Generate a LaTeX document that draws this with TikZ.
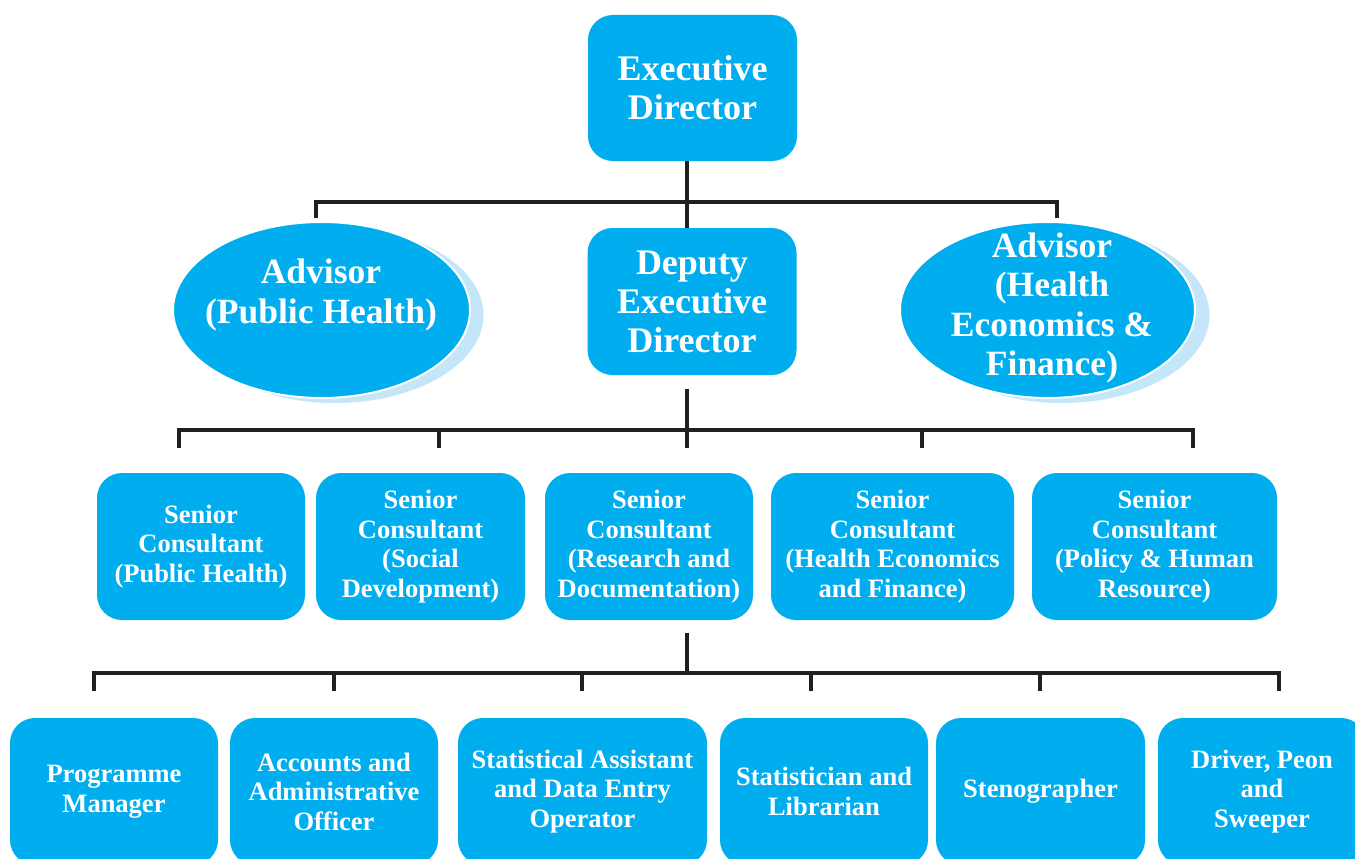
\documentclass[tikz,border=0pt]{standalone}
\usepackage{fontspec}
\setmainfont{Liberation Serif}
\usetikzlibrary{shapes.geometric}
\definecolor{boxblue}{HTML}{00AEEF}
\definecolor{shadowblue}{HTML}{C3E7F8}
\definecolor{linegray}{HTML}{231F20}
\tikzset{
  orgbox/.style={fill=boxblue, rounded corners=25pt, text=white, align=center, inner sep=2pt,
    font=\bfseries\fontsize{26.5}{29.5}\selectfont},
  topbox/.style={orgbox, font=\bfseries\fontsize{36}{39}\selectfont, minimum width=209pt},
  advell/.style={ellipse, fill=boxblue, draw=white, line width=2pt, inner sep=0pt},
  advshadow/.style={ellipse, fill=shadowblue, inner sep=0pt},
  advtext/.style={text=white, align=center, font=\bfseries\fontsize{35.5}{39.5}\selectfont},
  conn/.style={draw=linegray, line width=4pt, line cap=butt, line join=miter},
}
\begin{document}
\begin{tikzpicture}[x=1pt, y=-1pt]
\clip (0,0) rectangle (1355,859);
\fill[white] (0,0) rectangle (1355,859);

% top level
\node[topbox, minimum height=146pt] (exec) at (692.5,88) {Executive\\Director};
\node[topbox, minimum height=147pt] (dep) at (692,301.5) {Deputy\\Executive\\Director};

% advisors
\node[advshadow, minimum width=297pt, minimum height=176pt] (adv1s) at (335,315) {};
\node[advell, minimum width=297pt, minimum height=176pt] (adv1) at (321.5,310) {};
\node[advtext] (adv1t) at (321,295) {Advisor\\(Public Health)};

\node[advshadow, minimum width=295pt, minimum height=176pt] (adv2s) at (1062,315) {};
\node[advell, minimum width=295pt, minimum height=176pt] (adv2) at (1047.5,310) {};
\node[advtext] (adv2t) at (1052,308) {Advisor\\(Health\\Economics \&\\Finance)};

% senior consultants
\node[orgbox, minimum width=208pt, minimum height=147pt] (sc1) at (201,546.5) {Senior\\Consultant\\(Public Health)};
\node[orgbox, minimum width=209pt, minimum height=147pt] (sc2) at (420.5,546.5) {Senior\\Consultant\\(Social\\Development)};
\node[orgbox, minimum width=208pt, minimum height=147pt] (sc3) at (649,546.5) {Senior\\Consultant\\(Research and\\Documentation)};
\node[orgbox, minimum width=243pt, minimum height=147pt] (sc4) at (892.5,546.5) {Senior\\Consultant\\(Health Economics\\and Finance)};
\node[orgbox, minimum width=245pt, minimum height=147pt] (sc5) at (1154.5,546.5) {Senior\\Consultant\\(Policy \& Human\\Resource)};

% bottom row
\node[orgbox, minimum width=208pt, minimum height=147pt] (b1) at (114,791.5) {Programme\\Manager};
\node[orgbox, minimum width=208pt, minimum height=147pt] (b2) at (334,791.5) {Accounts and\\Administrative\\Officer};
\node[orgbox, minimum width=249pt, minimum height=147pt] (b3) at (582.5,791.5) {Statistical Assistant\\and Data Entry\\Operator};
\node[orgbox, minimum width=208pt, minimum height=147pt] (b4) at (824,791.5) {Statistician and\\Librarian};
\node[orgbox, minimum width=209pt, minimum height=147pt] (b5) at (1040.5,791.5) {Stenographer};
\node[orgbox, minimum width=208pt, minimum height=147pt] (b6) at (1262,791.5) {Driver, Peon\\and\\Sweeper};

% connectors level 1
\coordinate (busA) at (687,202);
\coordinate (tA1) at (316,218);
\coordinate (tA2) at (1057,218);
\draw[conn] (exec.south -| busA) -- (dep.north -| busA);
\draw[conn] (tA1) |- (busA) -| (tA2);

% connectors level 2
\coordinate (busB) at (687,430);
\coordinate (sB) at (687,389);
\coordinate (tB1) at (179,448);
\coordinate (tB2) at (439,448);
\coordinate (tB3) at (687,448);
\coordinate (tB4) at (922,448);
\coordinate (tB5) at (1193,448);
\draw[conn] (sB) -- (tB3);
\draw[conn] (tB1) |- (busB) -| (tB5);
\draw[conn] (tB2) -- (tB2 |- busB);
\draw[conn] (tB4) -- (tB4 |- busB);

% connectors level 3
\coordinate (busC) at (687,673);
\coordinate (sC) at (687,633);
\coordinate (tC1) at (94,691);
\coordinate (tC2) at (334,691);
\coordinate (tC3) at (582,691);
\coordinate (tC4) at (811,691);
\coordinate (tC5) at (1040,691);
\coordinate (tC6) at (1279,691);
\draw[conn] (sC) -- (busC);
\draw[conn] (tC1) |- (busC) -| (tC6);
\draw[conn] (tC2) -- (tC2 |- busC);
\draw[conn] (tC3) -- (tC3 |- busC);
\draw[conn] (tC4) -- (tC4 |- busC);
\draw[conn] (tC5) -- (tC5 |- busC);
\end{tikzpicture}
\end{document}
